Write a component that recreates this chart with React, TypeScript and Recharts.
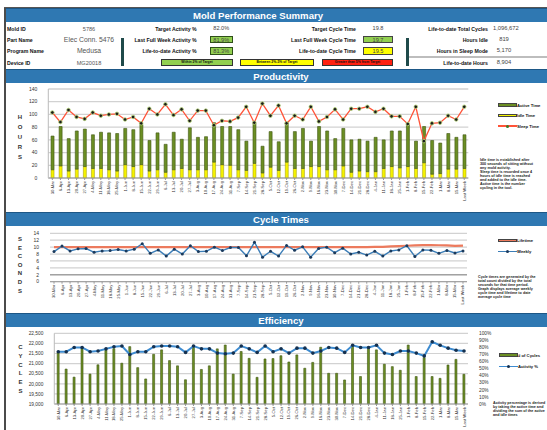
import {
  Bar,
  CartesianGrid,
  ComposedChart,
  Line,
  ReferenceLine,
  XAxis,
  YAxis,
} from "recharts";

const FONT = '"Liberation Sans", Arial, sans-serif';
const BLUE = "#2f78b2";
const OLIVE = "#6b8e23";
const OLIVE_EDGE = "#3f5512";

const WEEKS = [
  "30-Mar", "6-Apr", "13-Apr", "20-Apr", "27-Apr", "4-May", "11-May", "18-May",
  "25-May", "1-Jun", "8-Jun", "15-Jun", "22-Jun", "29-Jun", "6-Jul", "13-Jul",
  "20-Jul", "27-Jul", "3-Aug", "10-Aug", "17-Aug", "24-Aug", "31-Aug", "7-Sep",
  "14-Sep", "21-Sep", "28-Sep", "5-Oct", "12-Oct", "19-Oct", "26-Oct", "2-Nov",
  "9-Nov", "16-Nov", "23-Nov", "30-Nov", "7-Dec", "14-Dec", "21-Dec", "28-Dec",
  "4-Jan", "11-Jan", "18-Jan", "25-Jan", "1-Feb", "8-Feb", "15-Feb", "22-Feb",
  "1-Mar", "8-Mar", "15-Mar", "Last Week",
];

// weekly hours
const IDLE_HOURS = [
  13, 19, 11, 14, 18, 15, 15, 13, 11, 21, 18, 21, 11, 13, 9, 13, 15, 13, 13, 13,
  25, 21, 20, 13, 12, 23, 8, 17, 12, 25, 15, 15, 18, 18, 13, 13, 19, 9, 11, 10,
  10, 15, 18, 16, 18, 15, 24, 6, 7, 14, 14, 15,
];
const ACTIVE_HOURS = [
  53, 62, 51, 60, 59, 53, 57, 58, 59, 57, 58, 63, 48, 58, 44, 59, 46, 66, 51, 52,
  62, 60, 61, 63, 46, 64, 42, 56, 45, 62, 58, 63, 40, 63, 61, 49, 59, 51, 50, 48,
  54, 45, 56, 58, 66, 43, 57, 53, 48, 56, 50, 53,
];
const SLEEP_HOURS = [
  103, 88, 107, 96, 93, 103, 98, 100, 101, 92, 96, 86, 109, 100, 116, 99, 108, 90,
  106, 106, 83, 90, 89, 95, 112, 87, 117, 98, 114, 86, 98, 92, 112, 89, 96, 108,
  92, 109, 109, 112, 104, 109, 97, 97, 85, 112, 58, 86, 87, 98, 92, 112,
];

// cycle time, seconds
const LIFETIME_CYCLE = [
  10.0, 10.0, 10.0, 10.0, 10.0, 10.0, 10.0, 10.0, 10.0, 10.0, 10.0, 10.0, 10.0,
  10.0, 10.0, 10.0, 10.0, 10.0, 10.0, 10.0, 10.0, 10.0, 10.0, 10.0, 10.0, 10.0,
  10.0, 10.0, 10.0, 10.0, 10.0, 10.0, 10.0, 10.0, 10.0, 10.0, 10.0, 10.0, 10.0,
  10.0, 10.05, 10.1, 10.2, 10.3, 10.4, 10.5, 10.6, 10.6, 10.55, 10.5, 10.35, 10.45,
];
const WEEKLY_CYCLE = [
  8.7, 10.3, 8.9, 9.5, 9.6, 8.5, 8.9, 9.0, 9.3, 8.9, 9.4, 11.0, 8.2, 9.2, 7.4,
  9.4, 8.0, 10.4, 8.7, 8.8, 10.0, 9.0, 9.9, 9.9, 7.5, 11.4, 7.1, 8.8, 7.4, 10.5,
  9.1, 10.1, 7.1, 9.6, 10.0, 8.4, 9.7, 8.0, 8.5, 7.7, 8.8, 7.4, 8.9, 9.2, 10.4,
  7.3, 9.2, 9.1, 8.2, 9.0, 8.3, 8.9,
];

const CYCLE_COUNTS = [
  21550, 20730, 20330, 21800, 20480, 20940, 21680, 21740, 21020, 21840, 20800,
  20240, 21460, 21680, 21150, 20890, 20200, 21860, 20710, 20890, 21730, 21920,
  20480, 21600, 21260, 20320, 21230, 21250, 21390, 21080, 21430, 20770, 21060,
  21810, 20520, 20520, 20190, 21920, 20360, 21760, 21680, 20970, 20850, 20670,
  21920, 20360, 21300, 20360, 20270, 20930, 21210, 20470,
];
const ACTIVITY_PCT = [
  74, 74, 80, 80, 74, 75, 78, 81, 82, 70, 74, 74, 81, 82, 82, 81, 73, 82, 78, 78,
  72, 71, 72, 82, 78, 73, 82, 74, 78, 72, 79, 79, 72, 75, 80, 79, 73, 83, 80, 80,
  83, 72, 70, 75, 75, 72, 68, 88, 83, 79, 76, 75,
];

const HOUR_TICKS = [0, 20, 40, 60, 80, 100, 120, 140];
const SECOND_TICKS = [0, 2, 4, 6, 8, 10, 12, 14];
const CYCLE_TICKS = [19000, 19500, 20000, 20500, 21000, 21500, 22000, 22500];
const PCT_TICKS = [0, 10, 20, 30, 40, 50, 60, 70, 80, 90, 100];

const productivityRows = WEEKS.map((week, i) => ({
  week,
  idle: IDLE_HOURS[i],
  active: ACTIVE_HOURS[i],
  sleep: SLEEP_HOURS[i],
}));
const cycleRows = WEEKS.map((week, i) => ({
  week,
  lifetime: LIFETIME_CYCLE[i],
  weekly: WEEKLY_CYCLE[i],
}));
const efficiencyRows = WEEKS.map((week, i) => ({
  week,
  cycles: CYCLE_COUNTS[i],
  activity: ACTIVITY_PCT[i],
}));

const LEFT_INFO = [
  ["Mold ID", "5786", 5.6],
  ["Part Name", "Elec Conn. 5476", 6.8],
  ["Program Name", "Medusa", 6.8],
  ["Device ID", "MG20018", 5.6],
] as const;
const ACTIVITY_INFO = [
  ["Target Activity %", "82.0%", ""],
  ["Last Full Week Activity %", "81.9%", "#92d050"],
  ["Life-to-date Activity %", "81.3%", "#92d050"],
] as const;
const CYCLE_INFO = [
  ["Target Cycle Time", "19.8", ""],
  ["Last Full Week Cycle Time", "19.7", "#92d050"],
  ["Life-to-date Cycle Time", "19.5", "#ffff00"],
] as const;
const TOTALS_INFO = [
  ["Life-to-date Total Cycles", "1,096,672"],
  ["Hours Idle", "819"],
  ["Hours in Sleep Mode", "5,170"],
  ["Life-to-date Hours", "8,904"],
] as const;
const STATUS_KEYS = [
  ["Within 2% of Target", "#92d050", 161, 72],
  ["Between 2%-5% of Target", "#ffff00", 240, 74],
  ["Greater than 5% from Target", "#ff2010", 322, 71],
] as const;
const ROW_Y = [28.5, 39.5, 50.8, 62.5];

function WeekTick({ x, y, payload }: any) {
  return (
    <text
      x={x}
      y={y}
      transform={`rotate(-90 ${x} ${y})`}
      textAnchor="end"
      dominantBaseline="central"
      fontSize={4.2}
      fontFamily={FONT}
      fill="#333"
    >
      {payload.value}
    </text>
  );
}

function At({ left, top, children, style }: any) {
  return (
    <div style={{ position: "absolute", left, top, whiteSpace: "nowrap", ...style }}>
      {children}
    </div>
  );
}

function SectionBar({ top, height, title, center }: any) {
  return (
    <div
      style={{
        position: "absolute",
        left: 6,
        top,
        width: 541,
        height,
        background: BLUE,
        borderTop: "1px solid #1d5786",
        boxSizing: "border-box",
      }}
    >
      <div
        style={{
          position: "absolute",
          left: center - 6 - 100,
          width: 200,
          top: 0,
          height: height - 1,
          lineHeight: `${height - 1}px`,
          textAlign: "center",
          color: "#fff",
          fontWeight: "bold",
          fontSize: 9.6,
        }}
      >
        {title}
      </div>
    </div>
  );
}

function Letters({ word, left, top, gap }: any) {
  return (
    <>
      {word.split("").map((ch: string, i: number) => (
        <At
          key={i}
          left={left - 3}
          top={top + i * gap - 4}
          style={{ width: 6, textAlign: "center", fontSize: 6, fontWeight: "bold", color: "#333" }}
        >
          {ch}
        </At>
      ))}
    </>
  );
}

function LegendRow({ left, top, color, label, thick, dot }: any) {
  return (
    <>
      <div
        style={{
          position: "absolute",
          left,
          top: top - thick / 2,
          width: 19,
          height: thick,
          background: color,
          border: dot ? "none" : "0.5px solid #444",
          boxSizing: "border-box",
        }}
      />
      {dot && (
        <div
          style={{
            position: "absolute",
            left: left + 8,
            top: top - 1.5,
            width: 3,
            height: 3,
            borderRadius: 2,
            background: dot,
          }}
        />
      )}
      <At left={left + 19} top={top - 2.5} style={{ fontSize: 4.2, fontWeight: "bold", lineHeight: "5px" }}>
        {label}
      </At>
    </>
  );
}

function Note({ left, top, lines }: any) {
  return (
    <At left={left} top={top} style={{ fontSize: 3.7, lineHeight: "4px", fontWeight: "bold", color: "#222" }}>
      {lines.map((l: string, i: number) => (
        <div key={i}>{l}</div>
      ))}
    </At>
  );
}

const labelStyle = { fontSize: 5.2, fontWeight: "bold", lineHeight: "6px" };

export default function App() {
  return (
    <div
      style={{
        position: "absolute",
        left: 0,
        top: 0,
        width: 547,
        height: 430,
        overflow: "hidden",
        background: "#fff",
        fontFamily: FONT,
        color: "#111",
      }}
    >
      {/* frame */}
      <div style={{ position: "absolute", left: 4, top: 7, width: 2, height: 423, background: "#4b4b4b" }} />
      <div style={{ position: "absolute", left: 4, top: 7, width: 543, height: 1, background: "#555" }} />

      <SectionBar top={8} height={14} title="Mold Performance Summary" center={258} />

      {/* summary block */}
      {LEFT_INFO.map(([label, value, size], i) => (
        <div key={label}>
          <At left={7} top={ROW_Y[i] - 3} style={labelStyle}>
            {label}
          </At>
          <At
            left={49}
            top={ROW_Y[i] - 4}
            style={{ width: 80, textAlign: "center", fontSize: size, lineHeight: "8px", color: "#555" }}
          >
            {value}
          </At>
        </div>
      ))}
      <div style={{ position: "absolute", left: 120.5, top: 38, width: 3, height: 28, background: "#1f4a4a" }} />
      <div style={{ position: "absolute", left: 406, top: 38, width: 3, height: 28, background: "#1f4a4a" }} />

      {ACTIVITY_INFO.map(([label, value, fill], i) => (
        <div key={label}>
          <At left={96} top={ROW_Y[i] - 3} style={{ ...labelStyle, width: 100.7, textAlign: "right" }}>
            {label}
          </At>
          <At
            left={210}
            top={ROW_Y[i] - 3.8}
            style={{
              width: 22.5,
              height: 7.6,
              boxSizing: "border-box",
              background: fill || "transparent",
              border: fill ? "0.8px solid #2f4f1a" : "none",
              textAlign: "center",
              fontSize: 5.6,
              lineHeight: "6.4px",
              color: "#444",
            }}
          >
            {value}
          </At>
        </div>
      ))}

      {CYCLE_INFO.map(([label, value, fill], i) => (
        <div key={label}>
          <At left={246} top={ROW_Y[i] - 3} style={{ ...labelStyle, width: 110, textAlign: "right" }}>
            {label}
          </At>
          <At
            left={363}
            top={ROW_Y[i] - 3.8}
            style={{
              width: 30,
              height: 7.6,
              boxSizing: "border-box",
              background: fill || "transparent",
              border: fill ? "0.8px solid #444" : "none",
              textAlign: "center",
              fontSize: 5.6,
              lineHeight: "6.4px",
              color: "#444",
            }}
          >
            {value}
          </At>
        </div>
      ))}

      {STATUS_KEYS.map(([label, fill, left, width]) => (
        <At
          key={label}
          left={left}
          top={ROW_Y[3] - 3.3}
          style={{
            width,
            height: 7,
            boxSizing: "border-box",
            background: fill,
            border: "0.8px solid #333",
            textAlign: "center",
            fontSize: 3.4,
            fontWeight: "bold",
            lineHeight: "5.4px",
          }}
        >
          {label}
        </At>
      ))}

      <div style={{ position: "absolute", left: 409, top: 56, width: 138, height: 1.5, background: "#bdbdbd" }} />
      {TOTALS_INFO.map(([label, value], i) => (
        <div key={label}>
          <At left={398} top={ROW_Y[i] - 3} style={{ ...labelStyle, width: 90, textAlign: "right" }}>
            {label}
          </At>
          <At
            left={i === 0 ? 493 : 490}
            top={ROW_Y[i] - 3.5}
            style={{ width: i === 0 ? 60 : 28, textAlign: i === 0 ? "left" : "center", fontSize: 5.8, lineHeight: "7px", color: "#444" }}
          >
            {value}
          </At>
        </div>
      ))}

      {/* productivity */}
      <SectionBar top={68.5} height={14} title="Productivity" center={281} />
      <Letters word="HOURS" left={20} top={118} gap={10} />
      <div style={{ position: "absolute", left: 0, top: 82 }}>
        <ComposedChart
          width={547}
          height={128}
          data={productivityRows}
          margin={{ top: 7, right: 78.7, bottom: 0, left: 28.3 }}
          barCategoryGap="34%"
        >
          <CartesianGrid vertical={false} stroke="#d2d2d2" strokeWidth={1.3} />
          <XAxis
            dataKey="week"
            interval={0}
            height={32}
            tick={<WeekTick />}
            tickSize={2}
            tickMargin={1}
            stroke="#999"
          />
          <YAxis
            width={20}
            domain={[0, 140]}
            ticks={HOUR_TICKS}
            interval={0}
            tick={{ fontSize: 5, fill: "#333", fontFamily: FONT }}
            tickLine={false}
            tickMargin={5}
            stroke="#bbb"
          />
          <Bar dataKey="idle" stackId="hours" fill="#f5f200" stroke="#9b9500" strokeWidth={0.5} isAnimationActive={false} />
          <Bar dataKey="active" stackId="hours" fill={OLIVE} stroke={OLIVE_EDGE} strokeWidth={0.6} isAnimationActive={false} />
          <Line
            dataKey="sleep"
            stroke="#ff5338"
            strokeWidth={1.3}
            dot={{ r: 1.8, fill: "#1c1c1c", stroke: "#b8d77a", strokeWidth: 0.8 }}
            isAnimationActive={false}
          />
        </ComposedChart>
      </div>
      <LegendRow left={498} top={105} color={OLIVE} label="Active Time" thick={3.5} />
      <LegendRow left={498} top={115.7} color="#f5f200" label="Idle Time" thick={3.5} />
      <LegendRow left={498} top={126} color="#ff5338" label="Sleep Time" thick={1.5} dot="#3a7a2a" />
      <Note
        left={480}
        top={158}
        lines={[
          "Idle time is established after",
          "300 seconds of sitting without",
          "any mold activity.",
          "Sleep time is recorded once 4",
          "hours of idle time is reached",
          "and added to the idle time.",
          "Active time is the number",
          "cycling in the tool.",
        ]}
      />

      {/* cycle times */}
      <SectionBar top={212} height={14} title="Cycle Times" center={281} />
      <Letters word="SECONDS" left={20} top={240} gap={8.6} />
      <div style={{ position: "absolute", left: 0, top: 226 }}>
        <ComposedChart
          width={547}
          height={84}
          data={cycleRows}
          margin={{ top: 7.3, right: 80, bottom: 0, left: 30 }}
        >
          <CartesianGrid vertical={false} stroke="#d2d2d2" strokeWidth={1.2} />
          <ReferenceLine y={2} stroke="#8a8a8a" strokeWidth={1} />
          <XAxis
            dataKey="week"
            scale="band"
            interval={0}
            height={28.3}
            tick={<WeekTick />}
            tickSize={2}
            tickMargin={1}
            stroke="#999"
          />
          <YAxis
            width={20}
            domain={[0, 14]}
            ticks={SECOND_TICKS}
            interval={0}
            tick={{ fontSize: 5, fill: "#333", fontFamily: FONT }}
            tickLine={false}
            tickMargin={5}
            axisLine={false}
          />
          <Line dataKey="lifetime" stroke="#ec7a5d" strokeWidth={2.2} dot={false} isAnimationActive={false} />
          <Line
            dataKey="weekly"
            stroke="#3b7db7"
            strokeWidth={1.4}
            dot={{ r: 1.5, fill: "#1b3a5c", stroke: "none" }}
            isAnimationActive={false}
          />
        </ComposedChart>
      </div>
      <LegendRow left={498} top={240.5} color="#ec7a5d" label="Lifetime" thick={2.2} />
      <LegendRow left={498} top={251.5} color="#3b7db7" label="Weekly" thick={1.4} dot="#1b3a5c" />
      <Note
        left={478}
        top={275}
        lines={[
          "Cycle times are generated by the",
          "total count divided by the total",
          "seconds for that time period.",
          "Graph displays average weekly",
          "cycle time and lifetime to date",
          "average cycle time",
        ]}
      />

      {/* efficiency */}
      <SectionBar top={313} height={14} title="Efficiency" center={281} />
      <Letters word="CYCLES" left={20.5} top={348} gap={8.8} />
      <div style={{ position: "absolute", left: 0, top: 327 }}>
        <ComposedChart
          width={547}
          height={103}
          data={efficiencyRows}
          margin={{ top: 6.3, right: 57, bottom: 0, left: 28.3 }}
          barCategoryGap="36%"
        >
          <CartesianGrid vertical={false} yAxisId="left" stroke="#d2d2d2" strokeWidth={1.2} />
          <XAxis
            dataKey="week"
            interval={0}
            height={26}
            tick={<WeekTick />}
            tickSize={2}
            tickMargin={1}
            stroke="#999"
          />
          <YAxis
            yAxisId="left"
            width={26}
            domain={[19000, 22500]}
            ticks={CYCLE_TICKS}
            interval={0}
            tickFormatter={(v) => Number(v).toLocaleString("en-US")}
            tick={{ fontSize: 4.8, fill: "#333", fontFamily: FONT }}
            tickLine={false}
            tickMargin={5}
            stroke="#bbb"
          />
          <YAxis
            yAxisId="right"
            orientation="right"
            width={22}
            domain={[0, 100]}
            ticks={PCT_TICKS}
            interval={0}
            tickFormatter={(v) => `${v}%`}
            tick={{ fontSize: 4.8, fill: "#333", fontFamily: FONT }}
            tickLine={false}
            tickMargin={5}
            axisLine={false}
          />
          <Bar
            yAxisId="left"
            dataKey="cycles"
            fill={OLIVE}
            stroke={OLIVE_EDGE}
            strokeWidth={0.6}
            isAnimationActive={false}
          />
          <Line
            yAxisId="right"
            dataKey="activity"
            stroke="#3d8bd0"
            strokeWidth={2}
            dot={{ r: 1.8, fill: "#14304f", stroke: "none" }}
            isAnimationActive={false}
          />
        </ComposedChart>
      </div>
      <LegendRow left={499} top={355} color={OLIVE} label="# of Cycles" thick={3.5} />
      <LegendRow left={499} top={366.5} color="#3d8bd0" label="Activity %" thick={1.8} dot="#14304f" />
      <Note
        left={493}
        top={401}
        lines={[
          "Activity percentage is derived",
          "by taking the active time and",
          "dividing the sum of the active",
          "and idle times",
        ]}
      />
    </div>
  );
}
